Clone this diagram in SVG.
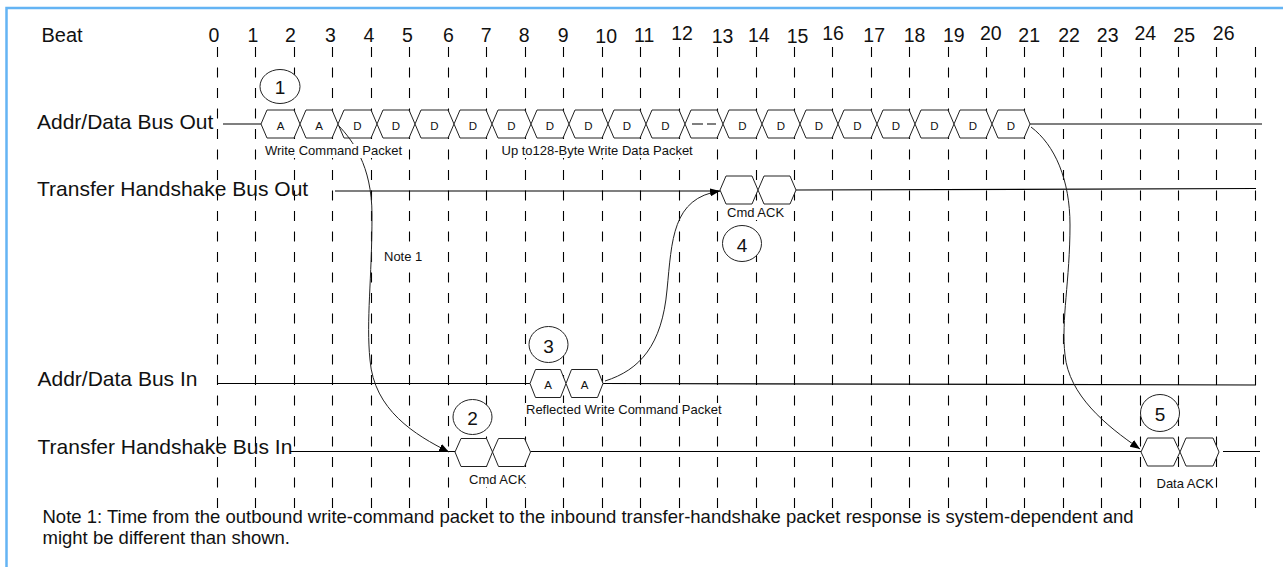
<svg xmlns="http://www.w3.org/2000/svg" width="1283" height="567" viewBox="0 0 1283 567">
<defs>
<style>
 text { font-family: "Liberation Sans", Arial, Helvetica, sans-serif; fill:#111; }
 .beat { font-size:19.5px; text-anchor:middle; }
 .sig { font-size:21px; }
 .small { font-size:13px; }
 .hx { font-size:11.5px; text-anchor:middle; }
 .num { font-size:19px; text-anchor:middle; }
 .note { font-size:18.5px; }
 .grid { stroke:#000; stroke-width:1.1; stroke-dasharray:10 10.5; fill:none; }
 .wire { stroke:#000; stroke-width:1.2; fill:none; }
 .hex { fill:#fff; stroke:#222; stroke-width:1; }
 .circ { fill:#fff; stroke:#222; stroke-width:1; }
 .curve { fill:none; stroke:#222; stroke-width:1; marker-end:url(#arr); }
 .bg { fill:#fff; }
</style>
<marker id="arr" viewBox="0 0 10 8" refX="10" refY="4" markerWidth="10" markerHeight="8" markerUnits="userSpaceOnUse" orient="auto"><path d="M0,0 L10,4 L0,8 z" fill="#000"/></marker>
</defs>
<rect x="0" y="0" width="1283" height="567" fill="#fff"/>
<rect x="6.5" y="8" width="1300" height="600" fill="none" stroke="#64b4f4" stroke-width="2.5"/>

<g id="beat-axis">
 <text class="sig" x="41.5" y="41.5" style="font-size:20px">Beat</text>
 <text class="beat" x="214" y="41.7">0</text>
 <text class="beat" x="253" y="41.7">1</text>
 <text class="beat" x="290.5" y="41.7">2</text>
 <text class="beat" x="330.5" y="41.7">3</text>
 <text class="beat" x="369" y="41.7">4</text>
 <text class="beat" x="407.5" y="41.7">5</text>
 <text class="beat" x="448.5" y="41.7">6</text>
 <text class="beat" x="486.3" y="41.7">7</text>
 <text class="beat" x="524.3" y="41.7">8</text>
 <text class="beat" x="563.3" y="41.7">9</text>
 <text class="beat" x="606.2" y="42.5">10</text>
 <text class="beat" x="644.2" y="41.7">11</text>
 <text class="beat" x="682" y="39.5">12</text>
 <text class="beat" x="722.5" y="42.5">13</text>
 <text class="beat" x="758.8" y="42">14</text>
 <text class="beat" x="797.5" y="42.5">15</text>
 <text class="beat" x="833" y="39.5">16</text>
 <text class="beat" x="874.2" y="41.7">17</text>
 <text class="beat" x="914.5" y="41.7">18</text>
 <text class="beat" x="953.8" y="41.7">19</text>
 <text class="beat" x="990.8" y="39.5">20</text>
 <text class="beat" x="1029.2" y="41.7">21</text>
 <text class="beat" x="1069" y="41.7">22</text>
 <text class="beat" x="1107.7" y="41.7">23</text>
 <text class="beat" x="1145.3" y="39.5">24</text>
 <text class="beat" x="1184.2" y="41.7">25</text>
 <text class="beat" x="1223.7" y="39.5">26</text>
 <path class="grid" d="M217.5,47V508 M255.5,47V508 M294.5,47V508 M332.5,47V508 M371.5,47V508 M409.5,47V508 M448.5,47V508 M486.5,47V508 M525.5,47V508 M563.5,47V508 M602.5,47V508 M640.5,47V508 M679.5,47V508 M717.5,47V508 M756.5,47V508 M794.5,47V508 M832.5,47V508 M871.5,47V508 M909.5,47V508 M948.5,47V508 M986.5,47V508 M1024.5,47V508 M1063.5,47V508 M1101.5,47V508 M1140.5,47V508 M1178.5,47V508 M1216.5,47V508 M1255.5,47V508"/>
</g>

<g id="addr-data-bus-out">
 <text class="sig" x="37" y="128.5">Addr/Data Bus Out</text>
 <path class="wire" d="M223,124H261 M1030,124H1262"/>
 <polygon class="hex" points="261,124 267,110 294,110 300,124 294,138 267,138"/>
 <polygon class="hex" points="300,124 306,110 332,110 338,124 332,138 306,138"/>
 <polygon class="hex" points="338,124 344,110 371,110 377,124 371,138 344,138"/>
 <polygon class="hex" points="377,124 383,110 409,110 415,124 409,138 383,138"/>
 <polygon class="hex" points="415,124 421,110 448,110 454,124 448,138 421,138"/>
 <polygon class="hex" points="454,124 460,110 486,110 492,124 486,138 460,138"/>
 <polygon class="hex" points="492,124 498,110 525,110 531,124 525,138 498,138"/>
 <polygon class="hex" points="531,124 537,110 563,110 569,124 563,138 537,138"/>
 <polygon class="hex" points="569,124 575,110 602,110 608,124 602,138 575,138"/>
 <polygon class="hex" points="608,124 614,110 640,110 646,124 640,138 614,138"/>
 <polygon class="hex" points="646,124 652,110 679,110 685,124 679,138 652,138"/>
 <polygon class="hex" points="685,124 691,110 717,110 723,124 717,138 691,138"/>
 <polygon class="hex" points="723,124 729,110 756,110 762,124 756,138 729,138"/>
 <polygon class="hex" points="762,124 768,110 794,110 800,124 794,138 768,138"/>
 <polygon class="hex" points="800,124 806,110 832,110 838,124 832,138 806,138"/>
 <polygon class="hex" points="838,124 844,110 871,110 877,124 871,138 844,138"/>
 <polygon class="hex" points="877,124 883,110 909,110 915,124 909,138 883,138"/>
 <polygon class="hex" points="915,124 921,110 948,110 954,124 948,138 921,138"/>
 <polygon class="hex" points="954,124 960,110 986,110 992,124 986,138 960,138"/>
 <polygon class="hex" points="992,124 998,110 1024,110 1030,124 1024,138 998,138"/>
 <path class="wire" d="M692,124H703 M707,124H716"/>
 <text class="hx" x="280.5" y="130">A</text>
 <text class="hx" x="319" y="130">A</text>
 <text class="hx" x="357.5" y="130">D</text>
 <text class="hx" x="396" y="130">D</text>
 <text class="hx" x="434.5" y="130">D</text>
 <text class="hx" x="473" y="130">D</text>
 <text class="hx" x="511.5" y="130">D</text>
 <text class="hx" x="550" y="130">D</text>
 <text class="hx" x="588.5" y="130">D</text>
 <text class="hx" x="627" y="130">D</text>
 <text class="hx" x="665.5" y="130">D</text>
 <text class="hx" x="742.5" y="130">D</text>
 <text class="hx" x="781" y="130">D</text>
 <text class="hx" x="819" y="130">D</text>
 <text class="hx" x="857.5" y="130">D</text>
 <text class="hx" x="896" y="130">D</text>
 <text class="hx" x="934.5" y="130">D</text>
 <text class="hx" x="973" y="130">D</text>
 <text class="hx" x="1011" y="130">D</text>
</g>

<g id="transfer-handshake-bus-out">
 <text class="sig" x="37" y="196">Transfer Handshake Bus Out</text>
 <path class="wire" d="M335,191H720 M796,190L1256,188.5"/>
 <polygon class="hex" points="720,190 726,176 752,176 758,190 752,204 726,204"/>
 <polygon class="hex" points="758,190 764,176 790,176 796,190 790,204 764,204"/>
</g>

<g id="addr-data-bus-in">
 <text class="sig" x="37.5" y="385.5">Addr/Data Bus In</text>
 <path class="wire" d="M218,383.5H530 M603,383.5L1256,385"/>
 <polygon class="hex" points="530,383.5 535.5,369.5 560.5,369.5 566,383.5 560.5,397.5 535.5,397.5"/>
 <polygon class="hex" points="566,383.5 571.5,369.5 597.5,369.5 603,383.5 597.5,397.5 571.5,397.5"/>
 <text class="hx" x="548" y="389">A</text>
 <text class="hx" x="584.5" y="389">A</text>
</g>

<g id="transfer-handshake-bus-in">
 <text class="sig" x="37.5" y="454">Transfer Handshake Bus In</text>
 <path class="wire" d="M290,451.5H455 M530.5,451.5H1141 M1223,451.5H1260"/>
 <polygon class="hex" points="455,452 461,438.5 486.5,438.5 492.5,452 486.5,466.5 461,466.5"/>
 <polygon class="hex" points="492.5,452 498.5,438.5 524.5,438.5 530.5,452 524.5,466.5 498.5,466.5"/>
 <polygon class="hex" points="1141,452 1147.5,438 1173.5,438 1180,452 1173.5,466 1147.5,466"/>
 <polygon class="hex" points="1180,452 1186,438 1213,438 1219,452 1213,466 1186,466"/>
</g>

<g id="connectors">
 <path class="curve" d="M339,126 C352,140 372,165 372,215 C372,280 366,320 370,360 C374,410 415,435 449,452"/>
 <path class="curve" d="M605,381 C640,370 662,345 667,290 C672,240 672,198 720,191"/>
 <path class="curve" d="M1031,127 C1055,145 1070,180 1070,225 C1070,280 1061,320 1065,355 C1069,395 1105,425 1140,449"/>
</g>

<g id="labels">
 <rect class="bg" x="264" y="144" width="141" height="14"/>
 <text class="small" x="265" y="154.5">Write Command Packet</text>
 <rect class="bg" x="500" y="144" width="198" height="14"/>
 <text class="small" x="501.5" y="154.5">Up to128-Byte Write Data Packet</text>
 <rect class="bg" x="726" y="206" width="61" height="14"/>
 <text class="small" x="727" y="216.5">Cmd ACK</text>
 <rect class="bg" x="383" y="250" width="40" height="14"/>
 <text class="small" x="384" y="261">Note 1</text>
 <rect class="bg" x="525" y="403" width="201" height="14"/>
 <text class="small" x="526" y="413.5">Reflected Write Command Packet</text>
 <rect class="bg" x="468" y="473" width="60" height="14"/>
 <text class="small" x="469" y="483.5">Cmd ACK</text>
 <rect class="bg" x="1155" y="477" width="58" height="14"/>
 <text class="small" x="1156.5" y="487.5">Data ACK</text>
</g>

<g id="callout-1"><ellipse class="circ" cx="280" cy="86.5" rx="20" ry="17"/><text class="num" x="280" y="94">1</text></g>
<g id="callout-2"><ellipse class="circ" cx="472.5" cy="417" rx="19.5" ry="17.5"/><text class="num" x="472.5" y="425">2</text></g>
<g id="callout-3"><ellipse class="circ" cx="548.5" cy="344.5" rx="19.5" ry="18"/><text class="num" x="548.5" y="352.5">3</text></g>
<g id="callout-4"><ellipse class="circ" cx="742" cy="243.5" rx="19.5" ry="18"/><text class="num" x="742" y="251.5">4</text></g>
<g id="callout-5"><ellipse class="circ" cx="1160" cy="413" rx="19.5" ry="18.5"/><text class="num" x="1160" y="421">5</text></g>

<g id="note">
 <text class="note" x="42.5" y="522.5">Note 1: Time from the outbound write-command packet to the inbound transfer-handshake packet response is system-dependent and</text>
 <text class="note" x="42.5" y="543.5">might be different than shown.</text>
</g>
</svg>
